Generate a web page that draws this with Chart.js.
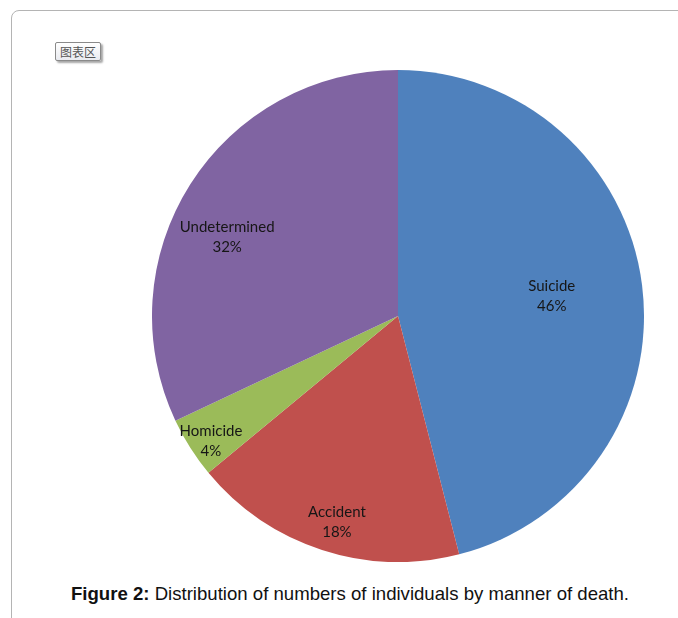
<!DOCTYPE html>
<html lang="en">
  <head>
    <meta charset="utf-8">
    <title>Manner of death</title>
    <script src="https://cdn.jsdelivr.net/npm/chart.js"></script>
    <style>
      html, body {
        margin: 0;
        padding: 0;
        background: #fff;
        width: 678px;
        height: 618px;
        overflow: hidden;
      }
      #frame {
        position: absolute;
        left: 11px;
        top: 10px;
        width: 700px;
        height: 700px;
        border: 1.5px solid #b4b4b4;
        border-radius: 8px;
        box-sizing: border-box;
      }
      #tag {
        position: absolute;
        left: 55px;
        top: 42px;
        width: 46px;
        height: 19px;
        box-sizing: border-box;
        border: 1px solid #8a8a8a;
        border-radius: 2px;
        background: linear-gradient(#ffffff, #e9ebf0);
        box-shadow: 2px 2px 2px rgba(0, 0, 0, 0.35);
        font: 12px "Noto Sans CJK SC", sans-serif;
        color: #555;
        line-height: 17px;
        text-align: center;
      }
      #pie {
        position: absolute;
        left: 152px;
        top: 70px;
        width: 492px;
        height: 492px;
      }
      #caption {
        position: absolute;
        left: 0;
        width: 700px;
        top: 583px;
        text-align: center;
        font: 18.6px "Liberation Sans", Arial, sans-serif;
        color: #111;
      }
    </style>
  </head>
  <body>
    <div id="frame"></div>
    <div id="tag">图表区</div>
    <div id="pie"><canvas id="pieChart"></canvas></div>
    <div id="caption"><b>Figure 2:</b> Distribution of numbers of individuals by manner of death.</div>

    <script>
      const categories = ["Suicide", "Accident", "Homicide", "Undetermined"];
      const percents = [46, 18, 4, 32];
      const colors = ["#4f81bd", "#c0504d", "#9bbb59", "#8064a2"];

      // Excel "best fit" labels: depth inside the slice and a small turn off the mid angle (degrees)
      const labelDepth = [0.63, 0.874, 0.915, 0.765];
      const labelTurn = [0, -1.5, -1.4, -7.6];

      const sliceLabels = {
        id: "sliceLabels",
        afterDatasetsDraw(chart) {
          const ctx = chart.ctx;
          const meta = chart.getDatasetMeta(0);
          ctx.save();
          ctx.font = '15px Lato, sans-serif';
          ctx.fillStyle = "#161616";
          ctx.textAlign = "center";
          ctx.textBaseline = "middle";
          meta.data.forEach((arc, i) => {
            const mid = (arc.startAngle + arc.endAngle) / 2 + labelTurn[i] * Math.PI / 180;
            const r = arc.outerRadius * labelDepth[i];
            const x = arc.x + Math.cos(mid) * r;
            const y = arc.y + Math.sin(mid) * r;
            ctx.fillText(categories[i], x, y - 10);
            ctx.fillText(percents[i] + "%", x, y + 10);
          });
          ctx.restore();
        }
      };

      new Chart(document.getElementById("pieChart").getContext("2d"), {
        type: "pie",
        data: {
          labels: categories,
          datasets: [{
            data: percents,
            backgroundColor: colors,
            borderWidth: 0
          }]
        },
        options: {
          animation: false,
          responsive: true,
          maintainAspectRatio: false,
          layout: { padding: 0 },
          plugins: {
            legend: { display: false },
            tooltip: { enabled: false }
          }
        },
        plugins: [sliceLabels]
      });
    </script>
  </body>
</html>
